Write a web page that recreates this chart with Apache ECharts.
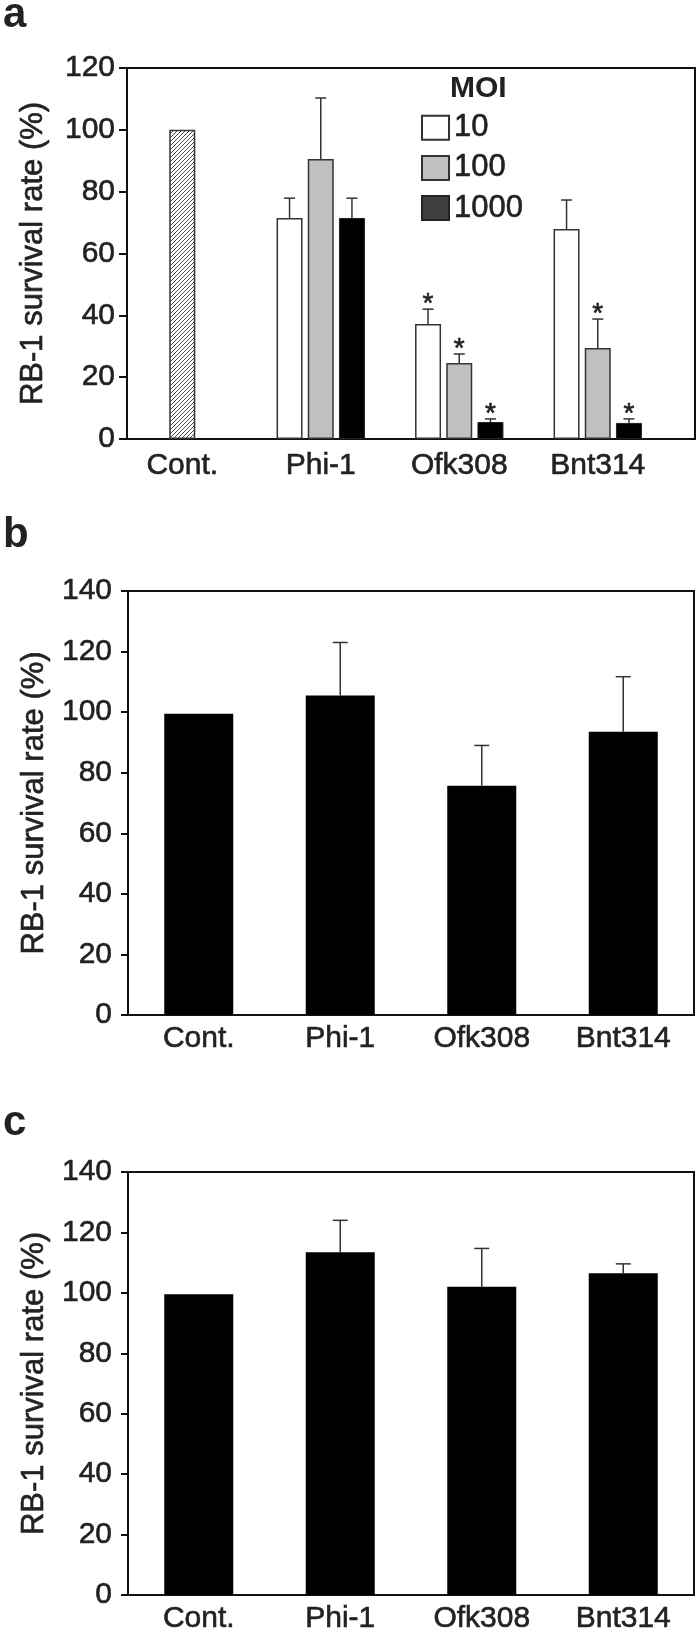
<!DOCTYPE html>
<html>
<head>
<meta charset="utf-8">
<script src="https://cdn.jsdelivr.net/npm/echarts@6/dist/echarts.min.js"></script>
<style>
html,body{margin:0;padding:0;background:#fff;}
#chart{width:700px;height:1636px;}
</style>
</head>
<body>
<div id="chart"></div>
<script>
// ---------------- data ----------------
const categories = ['Cont.', 'Phi-1', 'Ofk308', 'Bnt314'];
const moiNames = ['10', '100', '1000'];
const yTitle = 'RB-1 survival rate (%)';

// panel a
const aCont      = [100, null, null, null];
const aMoi10     = [null, 71.5, 37.2, 67.9];
const aMoi10Err  = [null, 77.9, 42.0, 77.3];
const aMoi100    = [null, 90.6, 24.6, 29.4];
const aMoi100Err = [null, 110.3, 27.5, 38.8];
const aMoi1000   = [null, 71.5, 5.5, 5.2];
const aMoi1000Err= [null, 77.9, 6.5, 6.5];
const aStar10    = [false, false, true, false];
const aStar100   = [false, false, true, true];
const aStar1000  = [false, false, true, true];

// panel b
const bValues = [99.5, 105.5, 75.7, 93.5];
const bErr    = [null, 123.0, 89.0, 111.7];

// panel c
const cValues = [99.5, 113.4, 102.0, 106.5];
const cErr    = [null, 124.0, 114.7, 109.6];

// ---------------- helpers ----------------
const FONT = 'Liberation Sans, Arial, Helvetica, sans-serif';
const TXT = '#222';
const HEAVY = { textBorderColor: '#222', textBorderWidth: 0.6 };
const nz = a => a.map(v => v == null ? '-' : v);

function errData(vals, errs, slot, stars) {
  const out = [];
  vals.forEach((v, i) => {
    if (v != null && errs[i] != null) out.push([i, v, errs[i], slot, stars && stars[i] ? 1 : 0]);
  });
  return out;
}

function errRender(slotStep, capHalf) {
  return function (params, api) {
    const ci = api.value(0), v = api.value(1), e = api.value(2), slot = api.value(3), star = api.value(4);
    const p0 = api.coord([ci, v]);
    const p1 = api.coord([ci, e]);
    const x = p0[0] + slot * slotStep;
    const st = { stroke: '#333', lineWidth: 1.5 };
    const children = [
      { type: 'line', shape: { x1: x, y1: p0[1], x2: x, y2: p1[1] }, style: st },
      { type: 'line', shape: { x1: x - capHalf, y1: p1[1], x2: x + capHalf, y2: p1[1] }, style: st }
    ];
    if (star) {
      children.push({ type: 'text', x: x, y: p1[1] - 5,
        style: { text: '*', font: '28px ' + FONT, fill: TXT, align: 'center', verticalAlign: 'middle',
                 stroke: TXT, lineWidth: 0.6 } });
    }
    return { type: 'group', children: children };
  };
}

// hatch pattern for control bar
const hatch = document.createElement('canvas');
hatch.width = 4; hatch.height = 4;
(function () {
  const g = hatch.getContext('2d');
  g.fillStyle = '#fff'; g.fillRect(0, 0, 4, 4);
  g.strokeStyle = '#333'; g.lineWidth = 0.9;
  g.beginPath();
  g.moveTo(0, 4); g.lineTo(4, 0);
  g.moveTo(-1, 1); g.lineTo(1, -1);
  g.moveTo(3, 5); g.lineTo(5, 3);
  g.stroke();
})();

const axisLabelStyle = Object.assign({ fontFamily: FONT, color: TXT, fontSize: 30 }, HEAVY);
const catLabelStyle = Object.assign({ fontFamily: FONT, color: TXT, fontSize: 30 }, HEAVY);

function frameY(gridIndex, max, margin, tickLen) {
  return {
    type: 'value', gridIndex: gridIndex, min: 0, max: max, interval: 20,
    name: yTitle, nameLocation: 'middle', nameGap: 78,
    nameTextStyle: Object.assign({ fontFamily: FONT, color: TXT, fontSize: 31 }, HEAVY),
    axisLine: { show: true, lineStyle: { color: '#111', width: 2 } },
    axisTick: { show: true, inside: false, length: tickLen, lineStyle: { color: '#111', width: 2 } },
    axisLabel: Object.assign({ margin: margin }, axisLabelStyle),
    splitLine: { show: false }
  };
}

const gridBase = { show: true, borderColor: '#111', borderWidth: 2, backgroundColor: 'transparent', containLabel: false, outerBoundsMode: 'none' };

const option = {
  animation: false,
  backgroundColor: '#fff',
  grid: [
    Object.assign({}, gridBase, { left: 127, top: 68, width: 568, height: 371 }),          // a frame
    { left: 113, top: 68, width: 554, height: 371, show: false, containLabel: false, outerBoundsMode: 'none' }, // a bars
    Object.assign({}, gridBase, { left: 128, top: 591, width: 566, height: 424 }),         // b
    Object.assign({}, gridBase, { left: 128, top: 1172, width: 566, height: 423 })         // c
  ],
  xAxis: [
    { type: 'category', gridIndex: 0, data: categories,
      axisLine: { show: true, lineStyle: { color: '#111', width: 2 } },
      axisTick: { show: false }, axisLabel: { show: false }, splitLine: { show: false } },
    { type: 'category', gridIndex: 1, data: categories,
      axisLine: { show: false }, axisTick: { show: false },
      axisLabel: Object.assign({ margin: 12, interval: 0 }, catLabelStyle) },
    { type: 'category', gridIndex: 2, data: categories,
      axisLine: { show: true, lineStyle: { color: '#111', width: 2 } }, axisTick: { show: false },
      axisLabel: Object.assign({ margin: 9, interval: 0 }, catLabelStyle) },
    { type: 'category', gridIndex: 3, data: categories,
      axisLine: { show: true, lineStyle: { color: '#111', width: 2 } }, axisTick: { show: false },
      axisLabel: Object.assign({ margin: 9, interval: 0 }, catLabelStyle) }
  ],
  yAxis: [
    frameY(0, 120, 12, 8),
    { type: 'value', gridIndex: 1, min: 0, max: 120, show: false },
    frameY(2, 140, 16, 7),
    frameY(3, 140, 16, 7)
  ],
  legend: {
    data: [{ name: '10' }, { name: '100' }, { name: '1000', itemStyle: { color: '#404040' } }],
    orient: 'vertical', left: 416, top: 107,
    itemWidth: 27, itemHeight: 24, itemGap: 8.5, icon: 'rect',
    selectedMode: false,
    textStyle: Object.assign({ fontFamily: FONT, fontSize: 31, color: TXT, lineHeight: 24 }, HEAVY)
  },
  graphic: [
    { type: 'text', left: 3, top: -6, style: { text: 'a', font: 'bold 42px ' + FONT, fill: TXT } },
    { type: 'text', left: 3, top: 514, style: { text: 'b', font: 'bold 42px ' + FONT, fill: TXT } },
    { type: 'text', left: 3, top: 1102, style: { text: 'c', font: 'bold 42px ' + FONT, fill: TXT } },
    { type: 'text', left: 450, top: 74, style: { text: 'MOI', font: 'bold 30px ' + FONT, fill: TXT } }
  ],
  series: [
    // panel a bars
    { name: moiNames[0], type: 'bar', xAxisIndex: 1, yAxisIndex: 1, data: nz(aMoi10),
      barWidth: 26, barGap: '20%',
      itemStyle: { color: '#ffffff', borderColor: '#333', borderWidth: 1.5 } },
    { name: moiNames[1], type: 'bar', xAxisIndex: 1, yAxisIndex: 1, data: nz(aMoi100), stack: 'mid',
      barWidth: 26, barGap: '20%',
      itemStyle: { color: '#c0c0c0', borderColor: '#333', borderWidth: 1.5 } },
    { name: 'Cont.', type: 'bar', xAxisIndex: 1, yAxisIndex: 1, data: nz(aCont), stack: 'mid',
      barWidth: 26, barGap: '20%',
      itemStyle: { color: { image: hatch, repeat: 'repeat' }, borderColor: '#333', borderWidth: 1.5 } },
    { name: moiNames[2], type: 'bar', xAxisIndex: 1, yAxisIndex: 1, data: nz(aMoi1000),
      barWidth: 26, barGap: '20%',
      itemStyle: { color: '#000000', borderColor: '#222', borderWidth: 1 } },
    // panel a error bars
    { type: 'custom', xAxisIndex: 1, yAxisIndex: 1, renderItem: errRender(31.2, 5.5), clip: false, z: 5,
      data: errData(aMoi10, aMoi10Err, -1, aStar10) },
    { type: 'custom', xAxisIndex: 1, yAxisIndex: 1, renderItem: errRender(31.2, 5.5), clip: false, z: 5,
      data: errData(aMoi100, aMoi100Err, 0, aStar100) },
    { type: 'custom', xAxisIndex: 1, yAxisIndex: 1, renderItem: errRender(31.2, 5.5), clip: false, z: 5,
      data: errData(aMoi1000, aMoi1000Err, 1, aStar1000) },
    // panel b
    { type: 'bar', xAxisIndex: 2, yAxisIndex: 2, data: bValues, barWidth: 69,
      itemStyle: { color: '#000' } },
    { type: 'custom', xAxisIndex: 2, yAxisIndex: 2, renderItem: errRender(0, 7.5), clip: false, z: 5,
      data: errData(bValues, bErr, 0, null) },
    // panel c
    { type: 'bar', xAxisIndex: 3, yAxisIndex: 3, data: cValues, barWidth: 69,
      itemStyle: { color: '#000' } },
    { type: 'custom', xAxisIndex: 3, yAxisIndex: 3, renderItem: errRender(0, 7.5), clip: false, z: 5,
      data: errData(cValues, cErr, 0, null) }
  ]
};

const chart = echarts.init(document.getElementById('chart'), null, { renderer: 'canvas', width: 700, height: 1636 });
chart.setOption(option);
</script>
</body>
</html>
